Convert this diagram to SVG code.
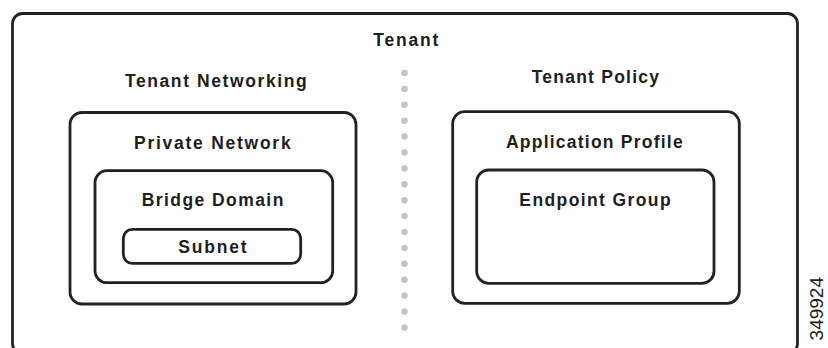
<svg xmlns="http://www.w3.org/2000/svg" width="828" height="348" viewBox="0 0 828 348">
  <style>
    .box { fill: none; stroke: #222; stroke-width: 2.8; }
    .label { font-family: "Liberation Sans", Arial, sans-serif; font-weight: bold; font-size: 17.5px; fill: #1e1e1e; text-anchor: middle; }
    .figid { font-family: "Liberation Sans", Arial, sans-serif; font-size: 19px; fill: #222; text-anchor: end; }
    .divider { stroke: #c4c4c4; stroke-width: 6.5; stroke-linecap: round; stroke-dasharray: 0 15.9; fill: none; }
  </style>
  <rect width="828" height="348" fill="#fff"/>

  <!-- Tenant container -->
  <g id="tenant">
    <rect class="box" x="12.5" y="13.5" width="785" height="340" rx="10"/>
    <text class="label" x="405.8" y="46" textLength="65">Tenant</text>
  </g>

  <!-- Divider between networking and policy -->
  <g id="connectors">
    <line class="divider" x1="404.5" y1="73" x2="404.5" y2="330"/>
  </g>

  <!-- Networking side -->
  <g id="tenant-networking">
    <text class="label" x="215.8" y="86.7" textLength="181.7">Tenant Networking</text>
  </g>
  <g id="private-network">
    <rect class="box" x="70" y="112.5" width="286" height="191.5" rx="12"/>
    <text class="label" x="212.3" y="149.3" textLength="156.7">Private Network</text>
  </g>
  <g id="bridge-domain">
    <rect class="box" x="95" y="170.7" width="237.7" height="112" rx="12"/>
    <text class="label" x="212.5" y="206" textLength="141.7">Bridge Domain</text>
  </g>
  <g id="subnet">
    <rect class="box" x="123.3" y="229.3" width="177.4" height="34" rx="9"/>
    <text class="label" x="212.5" y="252.7" textLength="68.3">Subnet</text>
  </g>

  <!-- Policy side -->
  <g id="tenant-policy">
    <text class="label" x="595.3" y="83.3" textLength="127.3">Tenant Policy</text>
  </g>
  <g id="application-profile">
    <rect class="box" x="452.7" y="111.7" width="286.6" height="191.6" rx="12"/>
    <text class="label" x="594.3" y="148.3" textLength="176.7">Application Profile</text>
  </g>
  <g id="endpoint-group">
    <rect class="box" x="476.7" y="170" width="237.3" height="113.3" rx="12"/>
    <text class="label" x="595" y="206" textLength="151.3">Endpoint Group</text>
  </g>

  <!-- Figure number -->
  <text class="figid" transform="translate(823 277) rotate(-90)">349924</text>
</svg>
